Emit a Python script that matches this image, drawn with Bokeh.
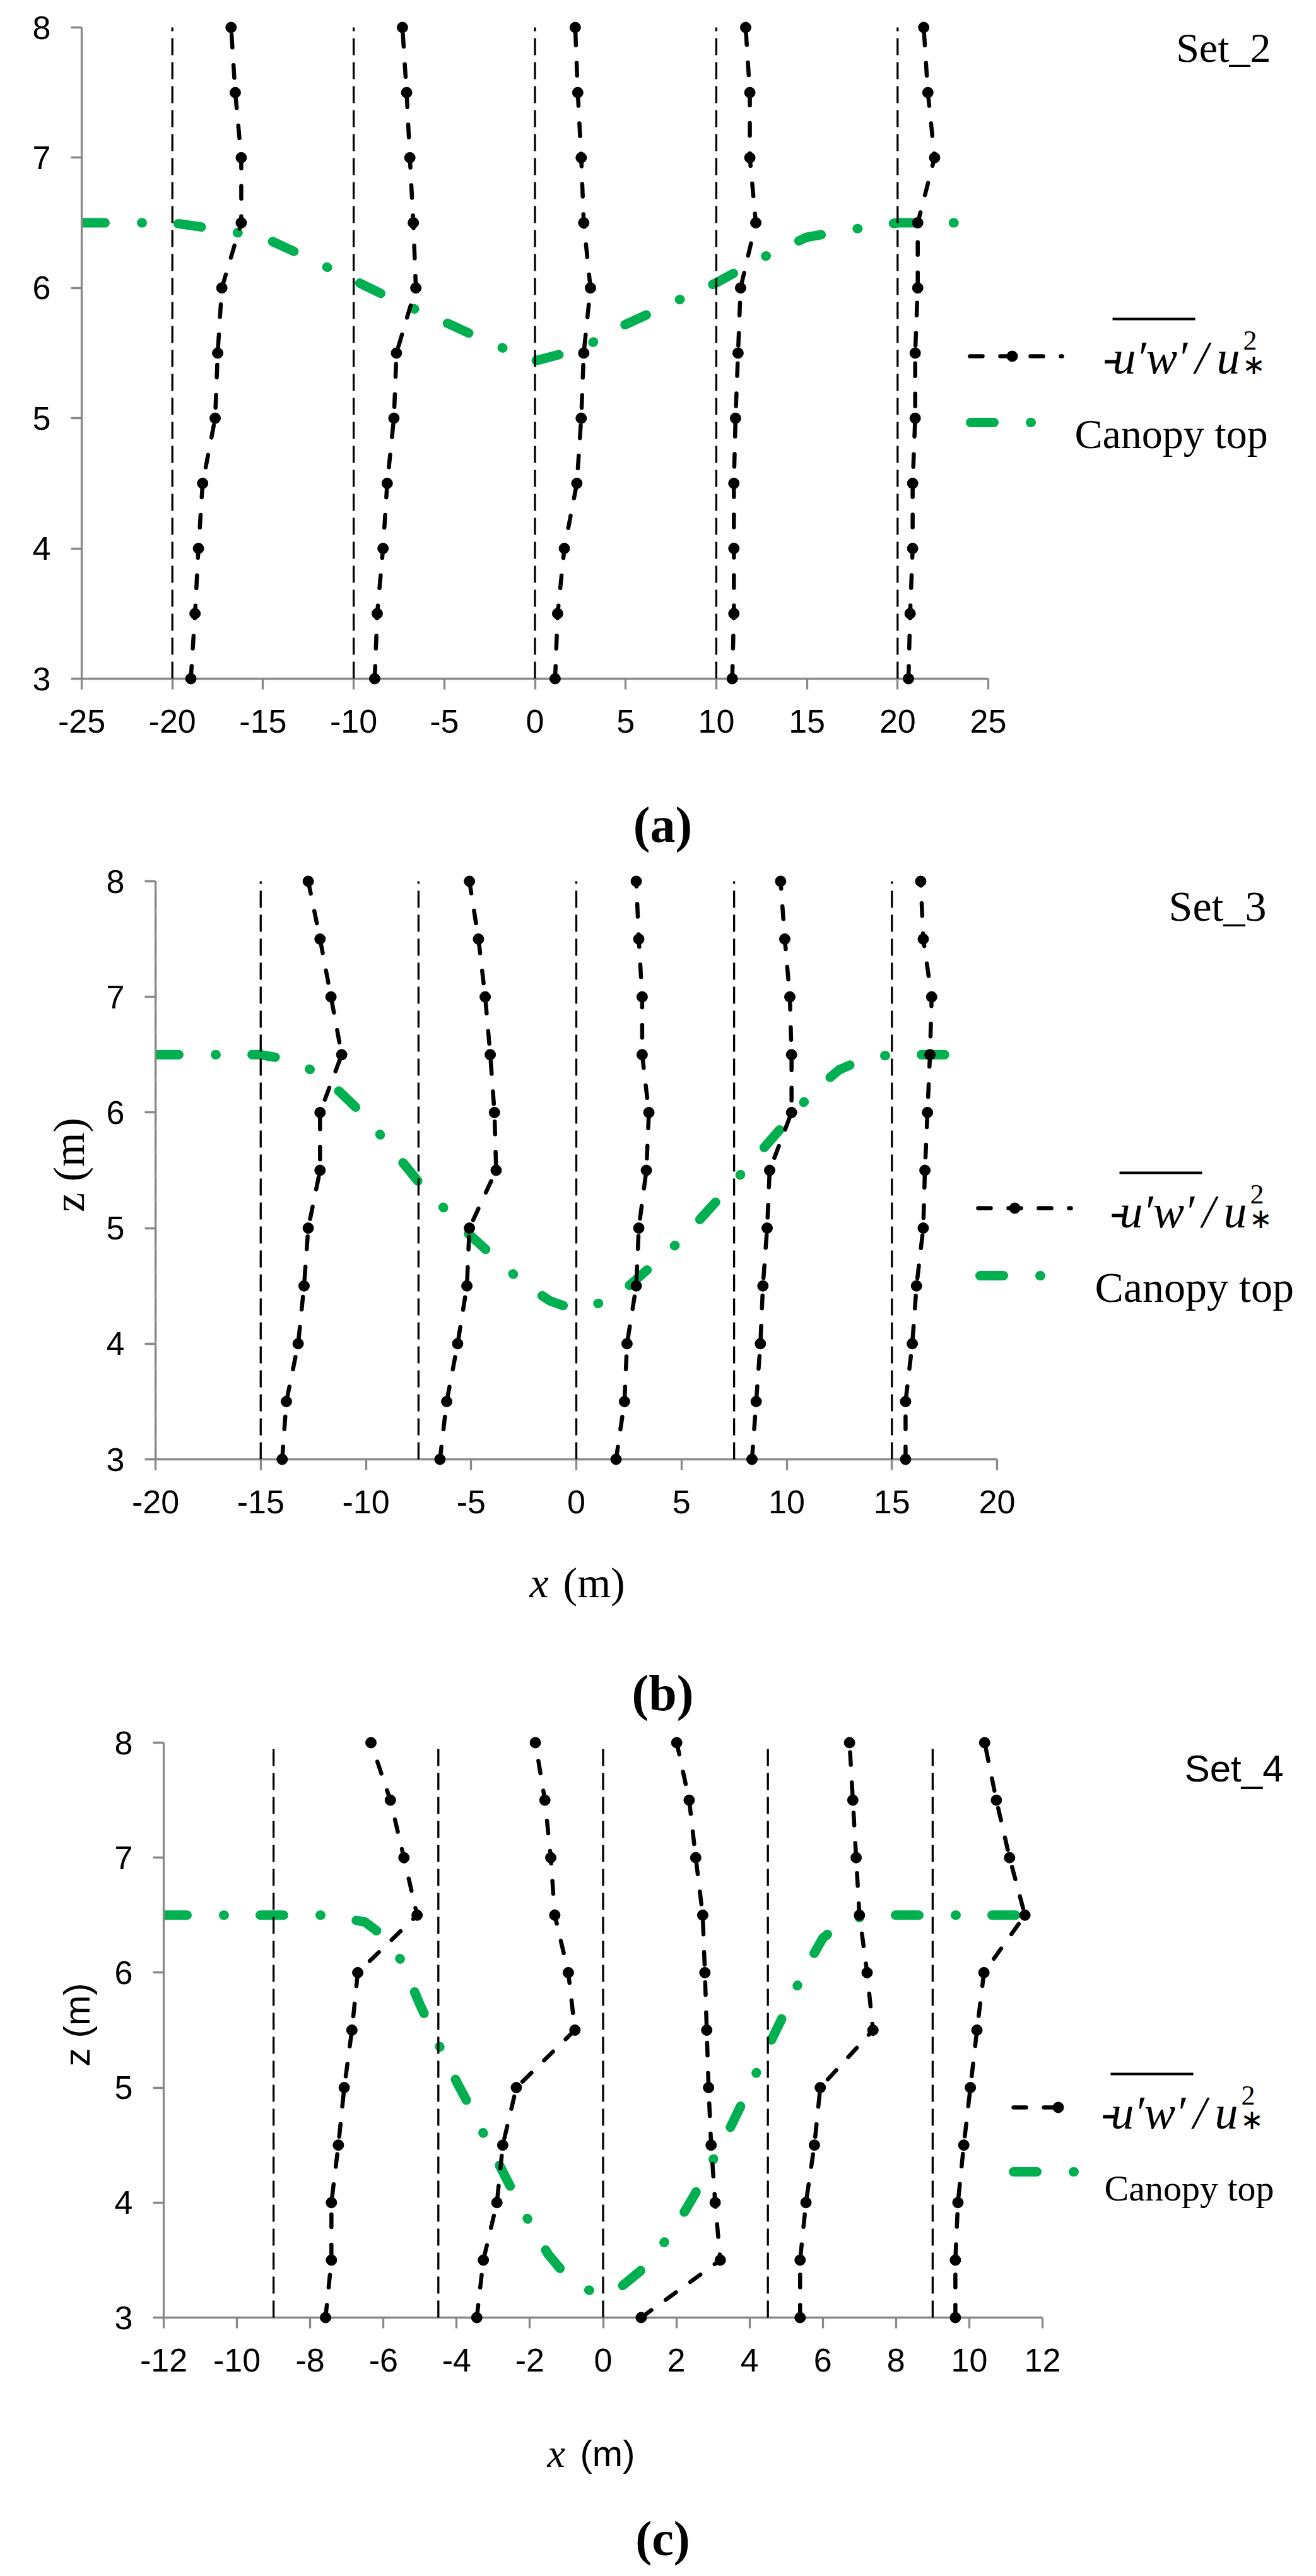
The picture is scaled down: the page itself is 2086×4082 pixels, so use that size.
from bokeh.plotting import figure
from bokeh.layouts import column, row
from bokeh.models import Range1d, FixedTicker, Label
from bokeh.embed import file_html
from bokeh.resources import INLINE

# ---------------- data ----------------
Z = [3.0, 3.5, 4.0, 4.5, 5.0, 5.5, 6.0, 6.5, 7.0, 7.5, 8.0]
Z_TICKS = [3, 4, 5, 6, 7, 8]

# Set_2 (a)
A_XTICKS = [-25, -20, -15, -10, -5, 0, 5, 10, 15, 20, 25]
A_VLINES = [-20, -10, 0, 10, 20]
A_P1 = [-18.98, -18.75, -18.56, -18.33, -17.64, -17.50, -17.27, -16.20, -16.20, -16.53, -16.76]
A_P2 = [-8.84, -8.70, -8.38, -8.15, -7.78, -7.64, -6.57, -6.71, -6.90, -7.08, -7.31]
A_P3 = [1.11, 1.25, 1.62, 2.31, 2.55, 2.69, 3.06, 2.69, 2.55, 2.36, 2.22]
A_P4 = [10.88, 10.97, 10.97, 10.97, 11.06, 11.20, 11.34, 12.18, 11.85, 11.85, 11.62]
A_P5 = [20.60, 20.69, 20.83, 20.83, 20.97, 20.97, 21.11, 21.11, 22.04, 21.67, 21.44]
A_CANOPY_X = [-25, -20, -17.5, -15, -12.5, -10, -7.5, -5, -2.5, 0, 2.5, 5, 7.5, 10, 12.5, 15, 17.5, 20, 25]
A_CANOPY_Z = [6.5, 6.5, 6.45, 6.39, 6.23, 6.06, 5.89, 5.74, 5.58, 5.44, 5.53, 5.72, 5.88, 6.04, 6.23, 6.39, 6.45, 6.5, 6.5]

# Set_3 (b)
B_XTICKS = [-20, -15, -10, -5, 0, 5, 10, 15, 20]
B_VLINES = [-20, -15, -7.5, 0, 7.5, 15]
B_P1 = [-13.98, -13.78, -13.22, -12.94, -12.74, -12.18, -12.18, -11.15, -11.66, -12.18, -12.74]
B_P2 = [-6.48, -6.16, -5.64, -5.20, -5.08, -3.81, -3.89, -4.09, -4.33, -4.65, -5.08]
B_P3 = [1.89, 2.29, 2.41, 2.85, 2.97, 3.33, 3.45, 3.13, 3.13, 2.97, 2.85]
B_P4 = [8.35, 8.55, 8.75, 8.87, 9.07, 9.19, 10.23, 10.23, 10.15, 9.91, 9.71]
B_P5 = [15.65, 15.65, 15.97, 16.17, 16.49, 16.57, 16.69, 16.81, 16.89, 16.49, 16.37]
B_CANOPY_X = [-20, -15, -13.75, -12.5, -11.25, -10, -7.5, -5, -2.5, -1.25, 0, 1.25, 2.5, 5, 7.5, 10, 11.25, 12.5, 13.75, 15, 18.5]
B_CANOPY_Z = [6.5, 6.5, 6.46, 6.36, 6.18, 5.96, 5.4, 4.93, 4.52, 4.37, 4.29, 4.36, 4.5, 4.9, 5.4, 5.92, 6.18, 6.37, 6.47, 6.5, 6.5]

# Set_4 (c)
C_XTICKS = [-12, -10, -8, -6, -4, -2, 0, 2, 4, 6, 8, 10, 12]
C_VLINES = [-9, -4.5, 0, 4.5, 9]
C_P1 = [-7.58, -7.42, -7.42, -7.23, -7.07, -6.86, -6.70, -5.08, -5.44, -5.81, -6.34]
C_P2 = [-3.45, -3.27, -2.90, -2.74, -2.37, -0.77, -0.95, -1.32, -1.43, -1.59, -1.85]
C_P3 = [1.04, 3.20, 3.06, 2.95, 2.88, 2.83, 2.78, 2.72, 2.53, 2.35, 2.01]
C_P4 = [5.38, 5.38, 5.54, 5.77, 5.93, 7.37, 7.21, 7.00, 6.91, 6.82, 6.73]
C_P5 = [9.62, 9.62, 9.69, 9.85, 10.03, 10.21, 10.40, 11.52, 11.10, 10.74, 10.42]
C_CANOPY_X = [-12, -7.5, -6.5, -6, -5.5, -5, -4.5, -4, -3.5, -3, -2.5, -2, -1.5, -1, -0.5, 0,
              0.5, 1, 1.5, 2, 2.5, 3, 3.5, 4, 4.5, 5, 5.5, 6, 6.5, 7, 7.5, 12]
C_CANOPY_Z = [6.5, 6.5, 6.44, 6.32, 6.1, 5.72, 5.38, 5.05, 4.75, 4.43, 4.12, 3.82, 3.55, 3.36, 3.25, 3.2,
              3.27, 3.4, 3.58, 3.8, 4.07, 4.37, 4.67, 5.0, 5.35, 5.68, 6.02, 6.3, 6.43, 6.48, 6.5, 6.5]

LEGEND_CANOPY = "Canopy top"

# ---------------- styles ----------------
GREY = "#898989"
GREEN = "#00B050"
SERIF = "Liberation Serif"
SANS = "Liberation Sans"
ZMIN, ZMAX = 3.0, 8.0
PAD = 12
RIGHT_EDGE = 2078
LEFT_EDGE = 8

PANELS = [
    dict(top=8, main_bottom=1215, strip_bottom=1375,
         fl=137, ft=51, fb=1083, xlim=(-25, 25), xpx=(137, 1574),
         xticks=A_XTICKS, vlines=A_VLINES, profiles=[A_P1, A_P2, A_P3, A_P4, A_P5],
         cx=A_CANOPY_X, cz=A_CANOPY_Z,
         leg=dict(b0=1545, b1=1691, bm=1612, by=572, g0=1546, g1=1643, gy=677,
                  mx=1756, mb=574, cxp=1711, cb=695, csize=66),
         set_label=("Set_2", SERIF, 66, 2022, 83),
         panel_label=("(a)", 1058, 1314, 80),
         xlabel=None, zlabel=None),
    dict(top=1375, main_bottom=2450, strip_bottom=2740,
         fl=254, ft=1404, fb=2320, xlim=(-20, 20), xpx=(254, 1588),
         xticks=B_XTICKS, vlines=B_VLINES, profiles=[B_P1, B_P2, B_P3, B_P4, B_P5],
         cx=B_CANOPY_X, cz=B_CANOPY_Z,
         leg=dict(b0=1558, b1=1705, bm=1616, by=1922, g0=1561, g1=1658, gy=2029,
                  mx=1767, mb=1927, cxp=1743, cb=2047, csize=68),
         set_label=("Set_3", SERIF, 68, 2015, 1443),
         panel_label=("(b)", 1058, 2690, 80),
         xlabel=(2515, [("x", 847, SERIF, 68, "italic"), ("(m)", 900, SERIF, 68, "normal")]),
         zlabel=("z (m)", SERIF, 70, "normal", 18)),
    dict(top=2740, main_bottom=3812, strip_bottom=4074,
         fl=267, ft=2769, fb=3680, xlim=(-12, 12), xpx=(267, 1660),
         xticks=C_XTICKS, vlines=C_VLINES, profiles=[C_P1, C_P2, C_P3, C_P4, C_P5],
         cx=C_CANOPY_X, cz=C_CANOPY_Z,
         leg=dict(b0=1614, b1=1690, bm=1685, by=3347, g0=1614, g1=1710, gy=3449,
                  mx=1753, mb=3355, cxp=1758, cb=3475, csize=58),
         set_label=("Set_4", SANS, 60, 2042, 2810),
         panel_label=("(c)", 1058, 4030, 78),
         xlabel=(3895, [("x", 875, SERIF, 64, "italic"), ("(m)", 927, SANS, 58, "normal")]),
         zlabel=("z (m)", SANS, 58, "normal", 25)),
]


def add_label(p, X, Y, text, px, py, font=SERIF, size=66, style="normal", align="left", angle=0.0):
    p.add_layout(Label(x=X(px), y=Y(py), text=text, text_font=font,
                       text_font_size=f"{size}px", text_font_style=style,
                       text_align=align, text_baseline="alphabetic",
                       angle=angle, text_color="black"))


def blank_strip(x0, x1, y0, y1):
    """A figure whose frame fills its canvas; coordinates equal page pixels."""
    s = figure(width=x1 - x0, height=y1 - y0, title=None,
               x_range=Range1d(x0, x1), y_range=Range1d(y1, y0),
               x_axis_type=None, y_axis_type=None,
               output_backend="svg", toolbar_location=None, min_border=0)
    s.outline_line_color = None
    s.xgrid.visible = False
    s.ygrid.visible = False
    s.background_fill_color = "white"
    s.border_fill_color = "white"
    return s


def build(spec):
    top, mbot = spec["top"], spec["main_bottom"]
    left = LEFT_EDGE
    fl, ft, fb = spec["fl"], spec["ft"], spec["fb"]
    xa, xb = spec["xlim"]
    pa, pb = spec["xpx"]
    sx = (pb - pa) / (xb - xa)
    sy = (fb - ft) / (ZMAX - ZMIN)

    def X(px):
        return xa + (px - pa) / sx

    def Y(py):
        return ZMIN + (fb - py) / sy

    p = figure(width=RIGHT_EDGE - left, height=mbot - top, title=None,
               x_range=Range1d(X(fl), X(RIGHT_EDGE)),
               y_range=Range1d(Y(fb + PAD), Y(top)),
               output_backend="svg", toolbar_location=None,
               min_border_left=fl - left, min_border_right=0,
               min_border_top=0,
               min_border_bottom=mbot - (fb + PAD))
    p.outline_line_color = None
    p.xgrid.visible = False
    p.ygrid.visible = False
    p.background_fill_color = "white"
    p.border_fill_color = "white"

    for ax in (p.xaxis[0], p.yaxis[0]):
        ax.major_label_text_font = SANS
        ax.major_label_text_font_size = "52px"
        ax.major_label_text_color = "black"
        ax.major_tick_line_color = GREY
        ax.major_tick_line_width = 3.3
        ax.minor_tick_line_color = None
        ax.axis_line_color = GREY
        ax.axis_line_width = 3.3
        ax.major_label_standoff = 32
    p.xaxis.ticker = FixedTicker(ticks=spec["xticks"])
    p.xaxis.major_label_overrides = {t: str(t) for t in spec["xticks"]}
    p.xaxis.axis_line_color = None
    p.xaxis.major_tick_in = PAD
    p.xaxis.major_tick_out = 17 - PAD
    p.yaxis.ticker = FixedTicker(ticks=Z_TICKS)
    p.yaxis.bounds = (ZMIN, ZMAX)
    p.yaxis.major_tick_in = 0
    p.yaxis.major_tick_out = 17
    if spec["zlabel"]:
        t, f, s, st, so = spec["zlabel"]
        p.yaxis.axis_label = t
        p.yaxis.axis_label_text_font = f
        p.yaxis.axis_label_text_font_size = f"{s}px"
        p.yaxis.axis_label_text_font_style = st
        p.yaxis.axis_label_text_color = "black"
        p.yaxis.axis_label_standoff = so

    # x axis line at z = 3
    p.segment(x0=[xa], y0=[ZMIN], x1=[xb], y1=[ZMIN], line_color=GREY, line_width=3.3)

    # canopy top
    p.line(spec["cx"], spec["cz"], line_color=GREEN, line_width=15,
           line_dash="37 58 1 57", line_cap="round")

    # vertical reference lines
    v = spec["vlines"]
    p.segment(x0=v, y0=[ZMIN] * len(v), x1=v, y1=[ZMAX] * len(v),
              line_color="black", line_width=3.3, line_dash="27 11")

    # profiles
    for prof in spec["profiles"]:
        p.line(prof, Z, line_color="black", line_width=6.5, line_dash="20 28", line_cap="round")
        p.scatter(prof, Z, size=17, fill_color="black", line_color="black")

    # legend
    lg = spec["leg"]
    p.line([X(lg["b0"]), X(lg["b1"])], [Y(lg["by"])] * 2, line_color="black",
           line_width=6.5, line_dash="20 28", line_cap="round")
    p.scatter([X(lg["bm"])], [Y(lg["by"])], size=17, fill_color="black", line_color="black")
    p.line([X(lg["g0"]), X(lg["g1"])], [Y(lg["gy"])] * 2, line_color=GREEN,
           line_width=15, line_dash="37 58 1 57", line_cap="round")
    mx, mb = lg["mx"], lg["mb"]
    add_label(p, X, Y, "-", mx, mb, size=74)
    add_label(p, X, Y, "u′w′", mx + 15, mb, size=74, style="italic")
    p.segment(x0=[X(mx + 15)], y0=[Y(mb - 61)], x1=[X(mx + 146)], y1=[Y(mb - 61)],
              line_color="black", line_width=4)
    add_label(p, X, Y, "/", mx + 146, mb, size=74, style="italic")
    add_label(p, X, Y, "u", mx + 180, mb, size=74, style="italic")
    add_label(p, X, Y, "2", mx + 222, mb - 27, size=44)
    add_label(p, X, Y, "∗", mx + 220, mb + 12, size=44)
    add_label(p, X, Y, LEGEND_CANOPY, lg["cxp"], lg["cb"], size=lg["csize"])

    # set label (inside the frame)
    t, f, s, rx, by = spec["set_label"]
    add_label(p, X, Y, t, rx, by, font=f, size=s, align="right")

    # bottom strip: x label and panel label
    ident = lambda q: q
    bs = blank_strip(LEFT_EDGE, RIGHT_EDGE, mbot, spec["strip_bottom"])
    if spec["xlabel"]:
        by, parts = spec["xlabel"]
        for t, px, f, s, st in parts:
            add_label(bs, ident, ident, t, px, by, font=f, size=s, style=st)
    t, cxp, by, sz = spec["panel_label"]
    add_label(bs, ident, ident, t, cxp, by, size=sz, style="bold", align="center")
    # wrap the plot in its own row so frames are not aligned across panels
    return [row(p, spacing=0), bs]


children = []
for s in PANELS:
    children.extend(build(s))
layout = column(*children, spacing=0)
open("out.html", "w").write(file_html(layout, INLINE))
